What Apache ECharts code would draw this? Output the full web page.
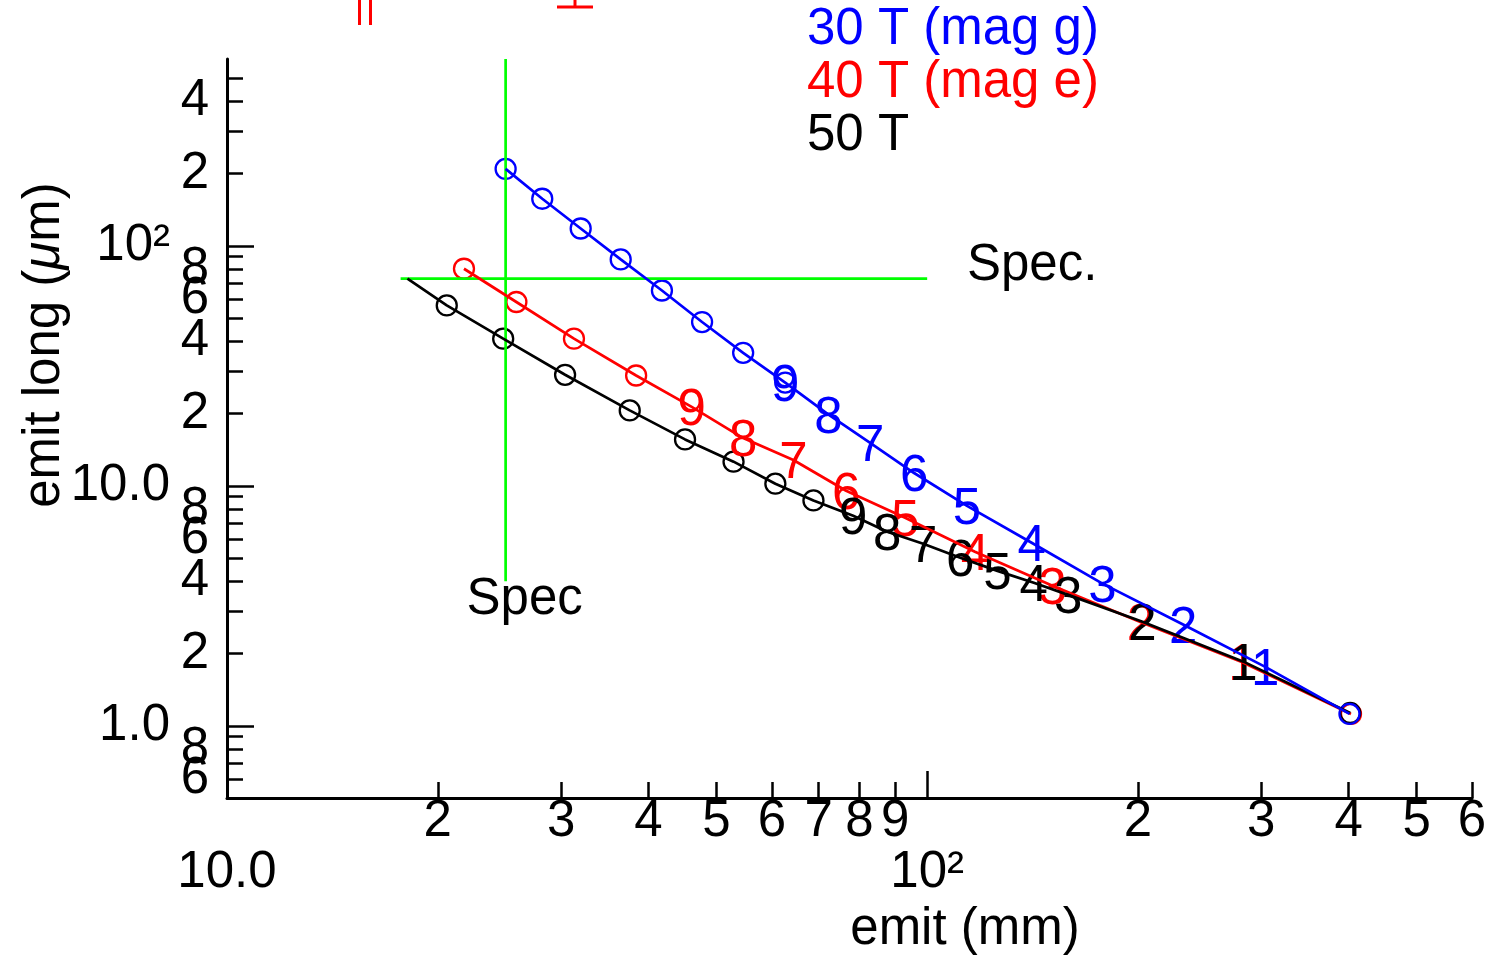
<!DOCTYPE html>
<html><head><meta charset="utf-8">
<script src="https://cdn.jsdelivr.net/npm/echarts@6/dist/echarts.min.js"></script>
<style>html,body{margin:0;padding:0;background:#fff}#c{width:1491px;height:960px}</style>
</head><body><div id="c"></div>
<script>
// ---------- data ----------
const xRange = [10, 600];
const yRange = [0.5, 600];
const xTicks = [20,30,40,50,60,70,80,90,200,300,400,500,600];
const xTickLabels = [20,30,40,50,60,70,80,90,200,300,400,500,600];
const xDecades = [10,100];
const xDecadeLabels = ['10.0','10\u00b2'];
const yTicks = [0.6,0.7,0.8,0.9,2,3,4,5,6,7,8,9,20,30,40,50,60,70,80,90,200,300,400,500];
const yTickLabels = [0.6,0.8,2,4,6,8,20,40,60,80,200,400];
const yDecades = [1,10,100];
const yDecadeLabels = ['1.0','10.0','10\u00b2'];

const name30 = '30 T (mag g)';
const emit30 = [25,28.2,32.0,36.5,41.8,47.7,54.6,62.7,72.3,82.9,95.8,114,141,178,232,304,401];
const long30 = [209,157,118,87.7,65.1,48.1,35.8,26.9,19.8,15.1,11.3,8.25,5.79,3.91,2.64,1.76,1.12];
const tag30  = ['o','o','o','o','o','o','o','o9','8','7','6','5','4','3','2','1','o'];

const name40 = '40 T (mag e)';
const emit40 = [21.8,25.9,31.3,38.4,46.1,54.6,64.4,76.6,93.0,117,151,202,282,403];
const long40 = [80.2,58.3,41.0,28.8,21.3,15.8,12.8,9.53,7.36,5.31,3.83,2.70,1.84,1.12];
const tag40  = ['o','o','o','o','9','8','7','6','5','4','3','2','1','o'];

const name50 = '50 T';
const emit50 = [18.1,20.6,24.8,30.4,37.6,45.1,52.9,60.7,68.8,78.4,87.7,98.7,111.5,126,142,159,203,283,402];
const long50 = [72.9,56.4,41.0,29.0,20.6,15.6,12.6,10.2,8.69,7.50,6.43,5.73,5.01,4.42,3.94,3.51,2.71,1.85,1.13];
const tag50  = ['','o','o','o','o','o','o','o','o','9','8','7','6','5','4','3','2','1','o'];

const specEmit = 25;           // vertical spec line
const specEmitSpan = [4, 600];
const specLong = 73;           // horizontal spec line
const specLongSpan = [17.7, 100];

// ---------- styling ----------
const FONT = 'Liberation Sans';
const FS = 51;
const BLUE = '#0000ff', RED = '#ff0000', BLACK = '#000000', GREEN = '#00ff00';
const L = Math.log10;

function lead(v) {
  const e = Math.floor(v + 1e-9);
  return String(Math.round(Math.pow(10, v - e)));
}
const txt = {fontSize: FS, fontFamily: FONT, color: '#000', showMinLabel: true, showMaxLabel: true, hideOverlap: false};

function build(name, color, xs, ys, tags) {
  const all = xs.map((x, i) => [x, ys[i]]);
  const circles = [], labels = [];
  tags.forEach((t, i) => {
    if (t.indexOf('o') >= 0) circles.push(all[i]);
    const d = t.replace('o', '');
    if (d) labels.push({name: d, value: all[i]});
  });
  return [
    {type: 'line', name, data: all, symbol: 'none', showSymbol: false,
     lineStyle: {color, width: 2.7, opacity: 1}, itemStyle: {color}, silent: true},
    {type: 'scatter', name, data: circles, symbol: 'circle', symbolSize: 20,
     itemStyle: {color: 'rgba(0,0,0,0)', borderColor: color, borderWidth: 2.3, opacity: 1}, silent: true},
    {type: 'scatter', name, data: labels, symbol: 'circle', symbolSize: 1,
     itemStyle: {color: 'rgba(0,0,0,0)', opacity: 1},
     label: {show: true, position: 'inside', offset: [0, 4], formatter: '{b}', opacity: 1,
             color, fontSize: FS, fontFamily: FONT}, silent: true}
  ];
}

const xMin = L(xRange[0]), xMax = L(xRange[1]);
const yMin = L(yRange[0]), yMax = L(yRange[1]);
const axLine = {show: true, onZero: false, lineStyle: {color: '#000', width: 3}};
const noLine = {show: false, onZero: false};
const noTick = {show: false};
const yLabA = yTickLabels.filter((v, i) => i % 2 === 0).map(L);
const yLabB = yTickLabels.filter((v, i) => i % 2 === 1).map(L);

function yLabelAxis(vals) {
  return {type: 'value', min: yMin, max: yMax, position: 'left', axisLine: noLine,
    splitLine: {show: false}, axisTick: noTick,
    axisLabel: Object.assign({customValues: vals, formatter: lead, margin: 18,
      padding: [0, 0, 16, 0]}, txt)};
}

const option = {
  animation: false,
  backgroundColor: '#fff',
  grid: {left: 227, right: 19, top: 59, bottom: 162, containLabel: false, outerBoundsMode: 'none'},
  legend: {
    orient: 'vertical', left: 796, top: -2, itemWidth: 0, itemHeight: 0, itemGap: 0,
    selectedMode: false,
    textStyle: {fontSize: FS, fontFamily: FONT, lineHeight: 53},
    data: [
      {name: name30, textStyle: {color: BLUE}},
      {name: name40, textStyle: {color: RED}},
      {name: name50, textStyle: {color: BLACK}}
    ]
  },
  xAxis: [
    {type: 'log', min: xRange[0], max: xRange[1], show: false},
    {type: 'value', min: xMin, max: xMax, position: 'bottom', axisLine: axLine,
     splitLine: {show: false},
     axisTick: {show: true, inside: true, length: 16, lineStyle: {color: '#000', width: 2.5},
                customValues: xTicks.map(L)},
     axisLabel: Object.assign({customValues: xTickLabels.map(L), formatter: lead, margin: -2}, txt)},
    {type: 'value', min: xMin, max: xMax, position: 'bottom', axisLine: noLine,
     splitLine: {show: false},
     axisTick: {show: true, inside: true, length: 27, lineStyle: {color: '#000', width: 2.5},
                customValues: xDecades.map(L)},
     axisLabel: Object.assign({customValues: xDecades.map(L),
       formatter: v => xDecadeLabels[xDecades.map(L).findIndex(d => Math.abs(d - v) < 1e-6)] || '',
       margin: 49}, txt)}
  ],
  yAxis: [
    {type: 'log', min: yRange[0], max: yRange[1], show: false},
    {type: 'value', min: yMin, max: yMax, position: 'left', axisLine: axLine,
     splitLine: {show: false},
     axisTick: {show: true, inside: true, length: 16, lineStyle: {color: '#000', width: 2.5},
                customValues: yTicks.map(L)},
     axisLabel: {show: false}},
    {type: 'value', min: yMin, max: yMax, position: 'left', axisLine: noLine,
     splitLine: {show: false},
     axisTick: {show: true, inside: true, length: 27, lineStyle: {color: '#000', width: 2.5},
                customValues: yDecades.map(L)},
     axisLabel: Object.assign({customValues: yDecades.map(L),
       formatter: v => yDecadeLabels[yDecades.map(L).findIndex(d => Math.abs(d - v) < 1e-6)] || '',
       margin: 57, padding: [14, 0, 0, 0]}, txt)},
    yLabelAxis(yLabA),
    yLabelAxis(yLabB)
  ],
  graphic: [
    {type: 'text', x: 45, y: 345, rotation: Math.PI / 2,
     style: {text: 'emit long ({i|\u03bc}m)', fill: '#000', fontSize: FS, fontFamily: FONT,
             align: 'center', verticalAlign: 'middle',
             rich: {i: {fontStyle: 'italic', fontSize: FS, fontFamily: FONT, fill: '#000'}}}},
    {type: 'text', x: 965, y: 930,
     style: {text: 'emit (mm)', fill: '#000', fontSize: FS, fontFamily: FONT,
             align: 'center', verticalAlign: 'middle'}},
    {type: 'line', shape: {x1: 359.5, y1: 0, x2: 359.5, y2: 25}, style: {stroke: RED, lineWidth: 3}},
    {type: 'line', shape: {x1: 370.5, y1: 0, x2: 370.5, y2: 25}, style: {stroke: RED, lineWidth: 3}},
    {type: 'line', shape: {x1: 557, y1: 7, x2: 593, y2: 7}, style: {stroke: RED, lineWidth: 3}},
    {type: 'line', shape: {x1: 575, y1: 0, x2: 575, y2: 7}, style: {stroke: RED, lineWidth: 3}}
  ],
  series: [
    {type: 'line', name: 'specV', data: [[specEmit, specEmitSpan[1]], [specEmit, specEmitSpan[0]]],
     symbol: 'none', lineStyle: {color: GREEN, width: 2.7}, silent: true},
    {type: 'line', name: 'specH', data: [[specLongSpan[0], specLong], [specLongSpan[1], specLong]],
     symbol: 'none', lineStyle: {color: GREEN, width: 2.7}, silent: true},
    {type: 'scatter', name: 'specLabels', symbolSize: 1, itemStyle: {color: 'rgba(0,0,0,0)', opacity: 1}, silent: true,
     data: [
       {name: 'Spec', value: [specEmit, specEmitSpan[0]], label: {offset: [19, 19]}},
       {name: 'Spec.', value: [specLongSpan[1], specLong], label: {offset: [105, -13]}}
     ],
     label: {show: true, position: 'inside', formatter: '{b}', color: '#000', opacity: 1,
             fontSize: FS, fontFamily: FONT}},
    ...build(name40, RED, emit40, long40, tag40),
    ...build(name50, BLACK, emit50, long50, tag50),
    ...build(name30, BLUE, emit30, long30, tag30)
  ]
};

const chart = echarts.init(document.getElementById('c'), null, {renderer: 'canvas'});
chart.setOption(option);
</script>
</body></html>
